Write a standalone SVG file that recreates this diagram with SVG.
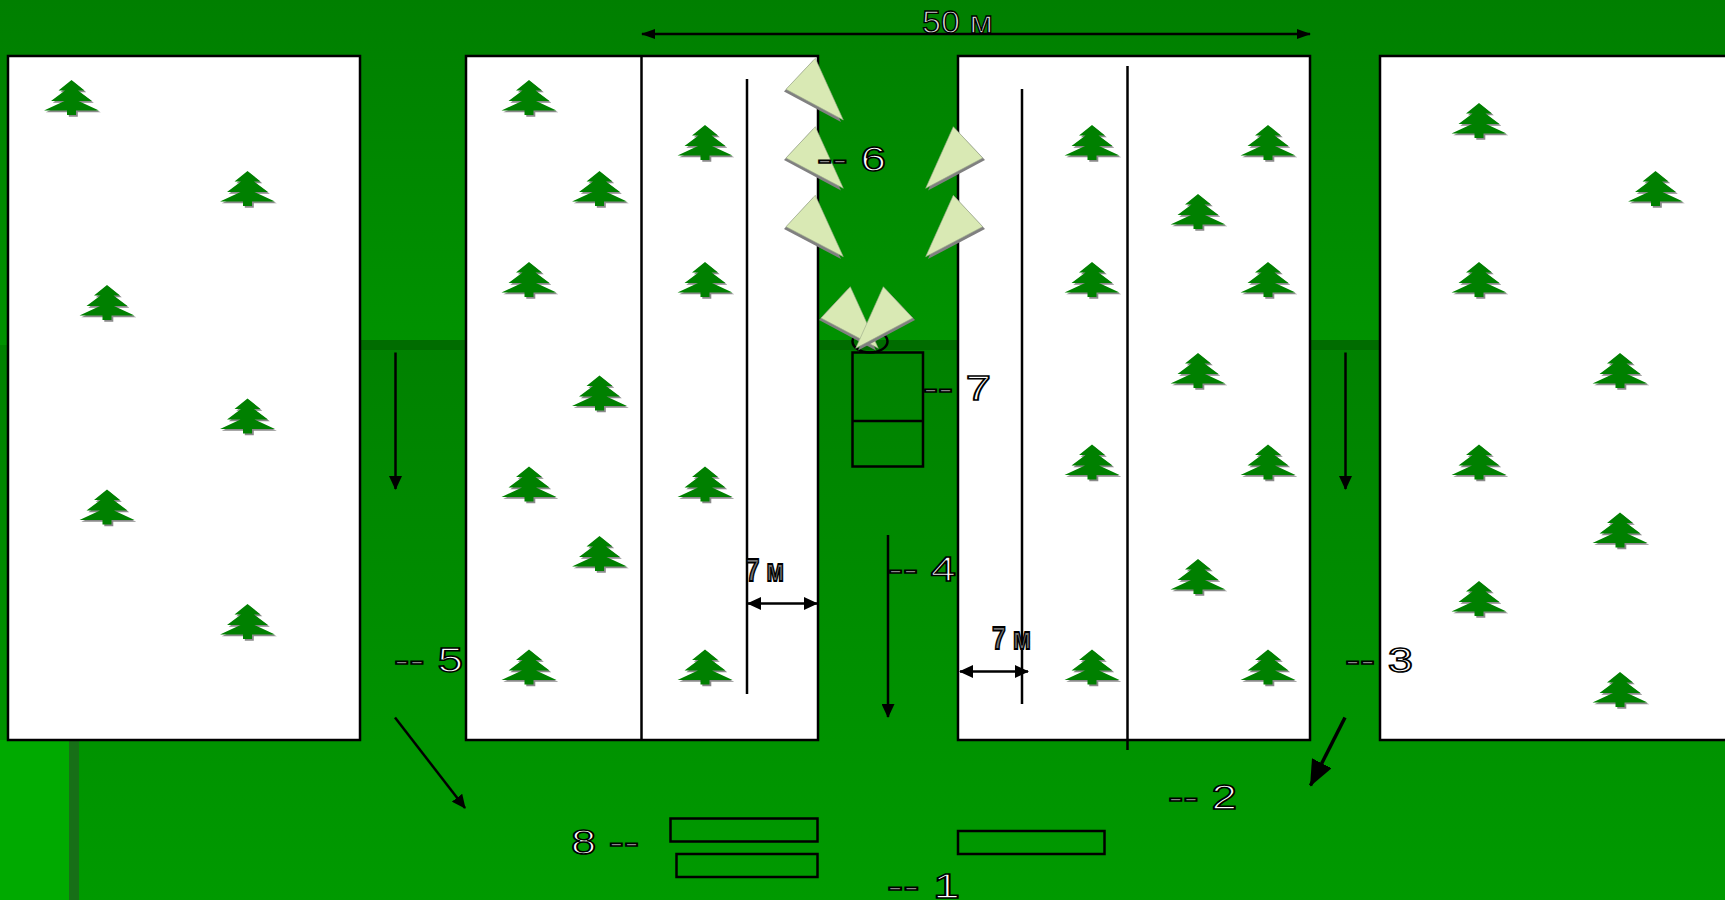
<svg xmlns="http://www.w3.org/2000/svg" width="1725" height="900" viewBox="0 0 1725 900">
<style>
.plot{fill:#fff;stroke:#000;stroke-width:2.500}
.ln{fill:none;stroke:#000;stroke-width:2.500}
.box{fill:none;stroke:#000;stroke-width:2.500}
.lbl{font-family:"Liberation Sans",Arial,sans-serif;font-size:35px;fill:#fff;stroke:#000;stroke-width:1.500}
.d{fill:#888}
.m{font-family:"Liberation Sans",Arial,sans-serif;font-size:32px;fill:#ddd;stroke:#000;stroke-width:1.300}
.mb{font-family:"Liberation Sans",Arial,sans-serif;font-size:32px;font-weight:bold;fill:#777;stroke:#000;stroke-width:1.800}
.tri{fill:#d9e9b4;stroke:#9aa88a;stroke-width:.6}
.sh{fill:#808080}
.tree{fill:#008000}
.ts{fill:#8a8a8a}
</style>
<defs>
<linearGradient id="bg1" x1="0" y1="0" x2="0" y2="1"><stop offset="0" stop-color="#007f00"/><stop offset="1" stop-color="#009200"/></linearGradient>
<linearGradient id="bg2" x1="0" y1="0" x2="0" y2="1"><stop offset="0" stop-color="#008100"/><stop offset="1" stop-color="#009a00"/></linearGradient>
<marker id="a" markerWidth="14" markerHeight="10" refX="13" refY="5" orient="auto-start-reverse" markerUnits="userSpaceOnUse"><path d="M0 0L14 5L0 10Z" fill="#000"/></marker>
<marker id="a2" markerWidth="14" markerHeight="13" refX="13" refY="6.500" orient="auto-start-reverse" markerUnits="userSpaceOnUse"><path d="M0 0L14 6.500L0 13Z" fill="#000"/></marker>
<marker id="a3" markerWidth="26" markerHeight="22" refX="25" refY="11" orient="auto" markerUnits="userSpaceOnUse"><path d="M0 0L26 11L0 22Z" fill="#000"/></marker>
<g id="t"><path class="ts" transform="translate(1.800,1.800)" d="M0 0L13 10.500H6.500L20.500 21H7L27.500 30.500H4.500V35H-4.500V30.500H-27.500L-7 21H-20.500L-6.500 10.500H-13Z"/><path class="tree" d="M0 0L13 10.500H6.500L20.500 21H7L27.500 30.500H4.500V35H-4.500V30.500H-27.500L-7 21H-20.500L-6.500 10.500H-13Z"/></g>
</defs>
<g id="ground">
<rect width="1725" height="345" fill="url(#bg1)"/>
<rect y="345" width="1725" height="555" fill="url(#bg2)"/>
<rect x="0" y="740" width="69" height="160" fill="#00aa00"/>
<rect x="69" y="740" width="10" height="160" fill="#176f17"/>
<rect x="360" y="340" width="1020" height="10" fill="#006c00"/>
</g>
<g id="plot-1"><rect class="plot" x="8" y="56" width="352" height="684"/></g>
<g id="plot-2"><rect class="plot" x="466" y="56" width="352" height="684"/><path class="ln" d="M641.500 56V740"/></g>
<g id="plot-3"><rect class="plot" x="958" y="56" width="352" height="684"/></g>
<g id="plot-4"><rect class="plot" x="1380" y="56" width="360" height="684"/></g>
<g id="trees">
<use href="#t" x="71.500" y="80"/><use href="#t" x="247.500" y="171"/><use href="#t" x="107" y="285"/><use href="#t" x="247.500" y="398.500"/><use href="#t" x="107" y="489.500"/><use href="#t" x="247.500" y="604"/>
<use href="#t" x="529" y="80"/><use href="#t" x="599.500" y="171"/><use href="#t" x="529" y="262"/><use href="#t" x="599.500" y="375.500"/><use href="#t" x="529" y="466.500"/><use href="#t" x="599.500" y="536"/><use href="#t" x="529" y="649.500"/>
<use href="#t" x="705" y="125"/><use href="#t" x="705" y="262"/><use href="#t" x="705" y="466.500"/><use href="#t" x="705" y="649.500"/>
<use href="#t" x="1092" y="125"/><use href="#t" x="1092" y="262"/><use href="#t" x="1092" y="444.500"/><use href="#t" x="1092" y="649.500"/>
<use href="#t" x="1198" y="194"/><use href="#t" x="1198" y="353"/><use href="#t" x="1198" y="559"/>
<use href="#t" x="1268" y="125"/><use href="#t" x="1268" y="262"/><use href="#t" x="1268" y="444.500"/><use href="#t" x="1268" y="649.500"/>
<use href="#t" x="1479" y="103"/><use href="#t" x="1479" y="262"/><use href="#t" x="1479" y="444.500"/><use href="#t" x="1479" y="581"/>
<use href="#t" x="1655.500" y="171"/><use href="#t" x="1620" y="353"/><use href="#t" x="1620" y="512.500"/><use href="#t" x="1620" y="672"/>
</g>
<g id="connectors">
<path class="ln" d="M642 34H1310" marker-start="url(#a)" marker-end="url(#a)"/>
<path class="ln" d="M747 79V694"/>
<path class="ln" d="M1022 89V704"/>
<path class="ln" d="M1127.500 66V750"/>
<path class="ln" d="M748 603.500H817" marker-start="url(#a2)" marker-end="url(#a2)"/>
<path class="ln" d="M960 671.500H1028" marker-start="url(#a2)" marker-end="url(#a2)"/>
<path class="ln" d="M888 535V717" marker-end="url(#a2)"/>
<path class="ln" d="M395.500 352.500V489" marker-end="url(#a2)"/>
<path class="ln" d="M1345.500 352.500V489" marker-end="url(#a2)"/>
<path class="ln" d="M395 717.500L465 808" marker-end="url(#a2)"/>
<path class="ln" d="M1345 717.500L1310.500 785.500" style="stroke-width:3.500" marker-end="url(#a3)"/>
</g>
<g id="gate-ellipse"><ellipse class="ln" cx="870" cy="341.500" rx="17.500" ry="11"/></g>
<g id="vehicle"><rect class="box" x="852.500" y="352.500" width="70.500" height="114"/><path class="ln" d="M852.500 421H923"/></g>
<g id="cones">
<path class="sh" d="M813 60.500L784 91.500L841 122Z"/><path class="tri" d="M815.300 58.300L786 89.300L843.300 120Z"/>
<path class="sh" d="M813 129L784 160L841 190.500Z"/><path class="tri" d="M815.300 126.700L786 158L843.300 188.300Z"/>
<path class="sh" d="M813 197.500L784 229L841 259Z"/><path class="tri" d="M815.300 195.300L786 226.700L843.300 256.700Z"/>
<path class="sh" d="M955.500 129L985 160L928 190.500Z"/><path class="tri" d="M953.300 126.700L982.700 158L925.700 188.300Z"/>
<path class="sh" d="M955.500 197.500L985 229L928 259Z"/><path class="tri" d="M953.300 195.300L982.700 226.700L925.700 256.700Z"/>
<path class="sh" d="M848 289L819 320L876 350.500Z"/><path class="tri" d="M850.300 286.700L821 318L878.300 348.300Z"/>
<path class="sh" d="M885.500 289L915 320L858 350.500Z"/><path class="tri" d="M883.300 286.700L912.700 318L855.700 348.300Z"/>
</g>
<g id="boxes">
<rect class="box" x="670.500" y="818.500" width="147" height="23"/>
<rect class="box" x="676.500" y="854" width="141" height="23"/>
<rect class="box" x="958" y="831" width="146.500" height="23"/>
</g>
<g id="labels">
<text class="m" x="922" y="33" textLength="71" lengthAdjust="spacingAndGlyphs">50 м</text>
<text class="mb" x="746" y="581" textLength="38" lengthAdjust="spacingAndGlyphs">7 м</text>
<text class="mb" x="992" y="649" textLength="39" lengthAdjust="spacingAndGlyphs">7 м</text>
<text class="lbl" x="817" y="171" textLength="69" lengthAdjust="spacingAndGlyphs"><tspan class="d">--</tspan> 6</text>
<text class="lbl" x="923" y="400" textLength="68" lengthAdjust="spacingAndGlyphs"><tspan class="d">--</tspan> 7</text>
<text class="lbl" x="888" y="581" textLength="68" lengthAdjust="spacingAndGlyphs"><tspan class="d">--</tspan> 4</text>
<text class="lbl" x="394" y="672" textLength="69" lengthAdjust="spacingAndGlyphs"><tspan class="d">--</tspan> 5</text>
<text class="lbl" x="1345" y="672" textLength="68" lengthAdjust="spacingAndGlyphs"><tspan class="d">--</tspan> 3</text>
<text class="lbl" x="1168" y="809" textLength="69" lengthAdjust="spacingAndGlyphs"><tspan class="d">--</tspan> 2</text>
<text class="lbl" x="887" y="898" textLength="73" lengthAdjust="spacingAndGlyphs"><tspan class="d">--</tspan> 1</text>
<text class="lbl" x="571" y="854" textLength="68" lengthAdjust="spacingAndGlyphs">8 <tspan class="d">--</tspan></text>
</g>
</svg>
